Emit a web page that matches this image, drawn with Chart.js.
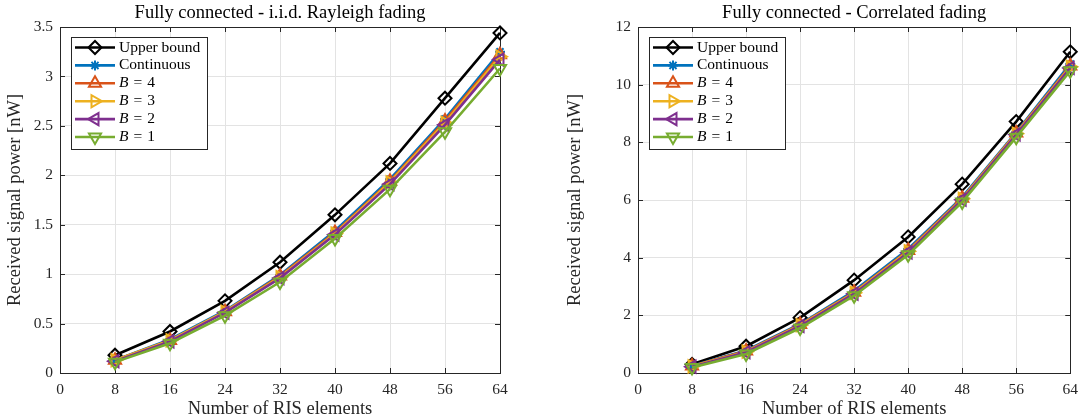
<!DOCTYPE html>
<html>
<head>
<meta charset="utf-8">
<script src="https://cdn.jsdelivr.net/npm/chart.js@4.4.1/dist/chart.umd.min.js"></script>
<style>
  html, body { margin: 0; padding: 0; background: #fff; }
  #wrap { position: relative; width: 1086px; height: 419px; }
  canvas { position: absolute; top: 0; }
</style>
</head>
<body>
<div id="wrap">
  <canvas id="left" width="543" height="419" style="left:0"></canvas>
  <canvas id="right" width="543" height="419" style="left:543px"></canvas>
</div>
<script>
// x values and ticks
const risElements = [8, 16, 24, 32, 40, 48, 56, 64];
const xTicks = [0, 8, 16, 24, 32, 40, 48, 56, 64];
const yTicksIid = [0, 0.5, 1, 1.5, 2, 2.5, 3, 3.5];
const yTicksCorr = [0, 2, 4, 6, 8, 10, 12];

const seriesLabels = ["Upper bound", "Continuous", "B = 4", "B = 3", "B = 2", "B = 1"];

// i.i.d. Rayleigh fading [nW]
const iidUpper = [0.18, 0.42, 0.73, 1.12, 1.60, 2.12, 2.78, 3.44];
const iidCont  = [0.13, 0.34, 0.63, 0.99, 1.44, 1.96, 2.57, 3.25];
const iidB4    = [0.13, 0.33, 0.62, 0.98, 1.42, 1.94, 2.55, 3.22];
const iidB3    = [0.13, 0.33, 0.62, 0.97, 1.41, 1.93, 2.53, 3.20];
const iidB2    = [0.12, 0.32, 0.61, 0.96, 1.40, 1.91, 2.51, 3.17];
const iidB1    = [0.11, 0.30, 0.58, 0.92, 1.36, 1.86, 2.44, 3.08];

// correlated fading [nW]
const corrUpper = [0.30, 0.93, 1.92, 3.22, 4.72, 6.55, 8.72, 11.14];
const corrCont  = [0.25, 0.78, 1.70, 2.85, 4.30, 6.10, 8.35, 10.72];
const corrB4    = [0.24, 0.76, 1.68, 2.80, 4.25, 6.06, 8.32, 10.65];
const corrB3    = [0.23, 0.74, 1.66, 2.78, 4.22, 6.04, 8.30, 10.62];
const corrB2    = [0.22, 0.72, 1.63, 2.75, 4.18, 6.01, 8.27, 10.58];
const corrB1    = [0.19, 0.66, 1.56, 2.68, 4.10, 5.93, 8.18, 10.48];

// MATLAB default colours / markers
const seriesStyle = [
  { color: "#000000", pointStyle: "rectRot", rotation: 0, radius: 6.5 },
  { color: "#0072BD", pointStyle: "star", rotation: 0, radius: 5 },
  { color: "#D95319", pointStyle: "triangle", rotation: 0, radius: 7 },
  { color: "#EDB120", pointStyle: "triangle", rotation: 90, radius: 7 },
  { color: "#7E2F8E", pointStyle: "triangle", rotation: -90, radius: 7 },
  { color: "#77AC30", pointStyle: "triangle", rotation: 180, radius: 7 },
];

const FONT = '"Liberation Serif", "Times New Roman", serif';
const AXIS_COLOR = "#262626";
const GRID_COLOR = "#e3e3e3";

const makeDatasets = (series) =>
  series.map((vals, i) => ({
    label: seriesLabels[i],
    data: risElements.map((n, k) => ({ x: n, y: vals[k] })),
    borderColor: seriesStyle[i].color,
    borderWidth: 2.6,
    pointStyle: seriesStyle[i].pointStyle,
    pointRotation: seriesStyle[i].rotation,
    pointRadius: seriesStyle[i].radius,
    pointBorderColor: seriesStyle[i].color,
    pointBackgroundColor: "rgba(0,0,0,0)",
    pointBorderWidth: 2,
    tension: 0,
    clip: false,
    order: series.length - 1 - i,
  }));

// axes box with inward ticks (MATLAB style)
const axesBox = {
  id: "axesBox",
  beforeDatasetsDraw(chart) {
    const { ctx, chartArea: a, scales } = chart;
    ctx.save();
    ctx.strokeStyle = AXIS_COLOR;
    ctx.lineWidth = 1;
    ctx.strokeRect(Math.round(a.left) + 0.5, Math.round(a.top) + 0.5,
      Math.round(a.right - a.left), Math.round(a.bottom - a.top));
    ctx.beginPath();
    scales.x.ticks.forEach((t) => {
      const px = Math.round(scales.x.getPixelForValue(t.value)) + 0.5;
      ctx.moveTo(px, a.bottom); ctx.lineTo(px, a.bottom - 5);
      ctx.moveTo(px, a.top); ctx.lineTo(px, a.top + 5);
    });
    scales.y.ticks.forEach((t) => {
      const py = Math.round(scales.y.getPixelForValue(t.value)) + 0.5;
      ctx.moveTo(a.left, py); ctx.lineTo(a.left + 5, py);
      ctx.moveTo(a.right, py); ctx.lineTo(a.right - 5, py);
    });
    ctx.stroke();
    ctx.restore();
  },
};

// legend box drawn inside plot, line + marker per entry
const legendBox = {
  id: "legendBox",
  afterDatasetsDraw(chart) {
    const { ctx, chartArea: a } = chart;
    const x0 = Math.round(a.left) + 11.5;
    const y0 = Math.round(a.top) + 10.5;
    const w = 136, h = 112, rowH = 17.9;
    ctx.save();
    ctx.fillStyle = "#fff";
    ctx.fillRect(x0, y0, w, h);
    ctx.strokeStyle = AXIS_COLOR;
    ctx.lineWidth = 1;
    ctx.strokeRect(x0, y0, w, h);
    chart.data.datasets.forEach((ds, i) => {
      const y = y0 + 10 + i * rowH;
      ctx.strokeStyle = ds.borderColor;
      ctx.lineWidth = ds.borderWidth;
      ctx.beginPath();
      ctx.moveTo(x0 + 3.5, y);
      ctx.lineTo(x0 + 43.5, y);
      ctx.stroke();
      ctx.fillStyle = "rgba(0,0,0,0)";
      ctx.lineWidth = ds.pointBorderWidth;
      Chart.helpers.drawPoint(ctx, {
        pointStyle: ds.pointStyle,
        rotation: ds.pointRotation,
        radius: ds.pointRadius,
        borderWidth: ds.pointBorderWidth,
      }, x0 + 23.5, y);

      ctx.fillStyle = "#000";
      ctx.textBaseline = "middle";
      ctx.textAlign = "left";
      const tx = x0 + 47.5;
      if (ds.label.startsWith("B ")) {
        // math-style "B = n"
        const parts = ds.label.split(" ");
        ctx.font = "italic 15.5px " + FONT;
        ctx.fillText(parts[0], tx, y);
        let cx = tx + ctx.measureText(parts[0]).width + 5;
        ctx.font = "15.5px " + FONT;
        ctx.fillText(parts[1], cx, y);
        cx += ctx.measureText(parts[1]).width + 5;
        ctx.fillText(parts[2], cx, y);
      } else {
        ctx.font = "15.5px " + FONT;
        ctx.fillText(ds.label, tx, y);
      }
    });
    ctx.restore();
  },
};

const plotTitle = {
  id: "plotTitle",
  afterDraw(chart, args, opts) {
    const { ctx, chartArea: a } = chart;
    ctx.save();
    ctx.font = "18.5px " + FONT;
    ctx.fillStyle = "#000";
    ctx.textAlign = "center";
    ctx.textBaseline = "middle";
    ctx.fillText(opts.text, (a.left + a.right) / 2, 13.5);
    ctx.restore();
  },
};

function makeChart(canvasId, series, title, yMax, yTicks, yWidth, rightPad, yTitlePad) {
  return new Chart(document.getElementById(canvasId), {
    type: "line",
    data: { datasets: makeDatasets(series) },
    options: {
      responsive: false,
      devicePixelRatio: 1,
      animation: false,
      events: [],
      layout: { padding: { top: 27, right: rightPad, left: 0, bottom: 0 } },
      plugins: {
        legend: { display: false },
        tooltip: { enabled: false },
        plotTitle: { text: title },
      },
      scales: {
        x: {
          type: "linear",
          min: 0,
          max: 64,
          afterBuildTicks: (s) => { s.ticks = xTicks.map((v) => ({ value: v })); },
          afterFit: (s) => { s.height = 46; },
          grid: { color: GRID_COLOR, drawTicks: false },
          border: { display: false },
          ticks: {
            padding: 8,
            color: AXIS_COLOR,
            font: { family: FONT, size: 15.5 },
            maxRotation: 0,
            callback: (v) => String(v),
          },
          title: {
            display: true,
            text: "Number of RIS elements",
            color: AXIS_COLOR,
            font: { family: FONT, size: 18.5 },
            padding: { top: 0, bottom: -1 },
          },
        },
        y: {
          type: "linear",
          min: 0,
          max: yMax,
          afterBuildTicks: (s) => { s.ticks = yTicks.map((v) => ({ value: v })); },
          afterFit: (s) => { s.width = yWidth; },
          grid: { color: GRID_COLOR, drawTicks: false },
          border: { display: false },
          ticks: {
            padding: 7,
            color: AXIS_COLOR,
            font: { family: FONT, size: 15.5 },
            callback: (v) => String(v),
          },
          title: {
            display: true,
            text: "Received signal power [nW]",
            color: AXIS_COLOR,
            font: { family: FONT, size: 18.5 },
            padding: { top: yTitlePad, bottom: 0 },
          },
        },
      },
    },
    plugins: [axesBox, legendBox, plotTitle],
  });
}

makeChart("left", [iidUpper, iidCont, iidB4, iidB3, iidB2, iidB1],
  "Fully connected - i.i.d. Rayleigh fading", 3.5, yTicksIid, 60, 43, 4);
makeChart("right", [corrUpper, corrCont, corrB4, corrB3, corrB2, corrB1],
  "Fully connected - Correlated fading", 12, yTicksCorr, 95, 8, 21);
</script>
</body>
</html>
